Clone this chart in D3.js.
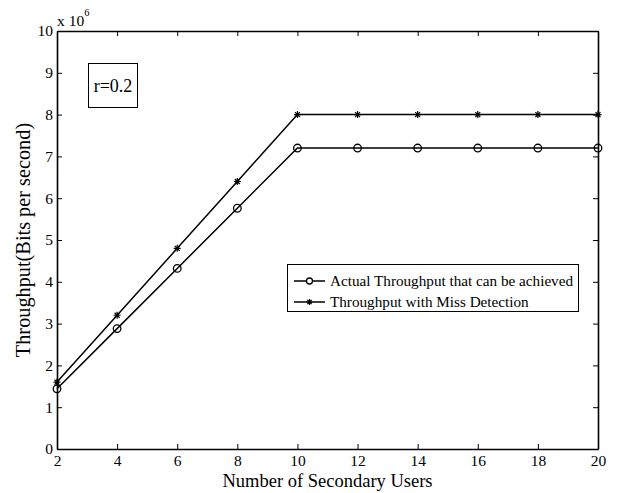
<!DOCTYPE html>
<html>
<head>
<meta charset="utf-8">
<script src="https://cdn.jsdelivr.net/npm/d3@7"></script>
<style>
  body { margin: 0; background: #fff; }
  text { font-family: "Liberation Serif", "Times New Roman", serif; fill: #000; }
</style>
</head>
<body>
<svg width="620" height="493"></svg>
<script>
var users = [2, 4, 6, 8, 10, 12, 14, 16, 18, 20];
var actualThroughput = [1.44, 2.88, 4.32, 5.76, 7.2, 7.2, 7.2, 7.2, 7.2, 7.2];
var missDetection = [1.6, 3.2, 4.8, 6.4, 8, 8, 8, 8, 8, 8];
var xTicks = [2, 4, 6, 8, 10, 12, 14, 16, 18, 20];
var yTicks = [0, 1, 2, 3, 4, 5, 6, 7, 8, 9, 10];
var seriesNames = ["Actual Throughput that can be achieved", "Throughput with Miss Detection"];

var svg = d3.select("svg"),
    margin = {top: 31, right: 22, bottom: 44, left: 57},
    width = svg.attr("width") - margin.left - margin.right,
    height = svg.attr("height") - margin.top - margin.bottom,
    g = svg.append("g").attr("transform", "translate(" + margin.left + "," + margin.top + ")");

var scaleX = d3.scaleLinear().domain([2, 20]).range([0, width]),
    scaleY = d3.scaleLinear().domain([0, 10]).range([height, 0]);

// axes with inward ticks, like matlab
g.append("g")
    .attr("transform", "translate(0," + height + ")")
    .call(d3.axisBottom(scaleX).tickValues(xTicks).tickSizeInner(-5).tickSizeOuter(0).tickPadding(6));
g.append("g")
    .call(d3.axisTop(scaleX).tickValues(xTicks).tickSizeInner(-5).tickSizeOuter(0).tickFormat(""));
g.append("g")
    .call(d3.axisLeft(scaleY).tickValues(yTicks).tickSizeInner(-5).tickSizeOuter(0).tickPadding(4));
g.append("g")
    .attr("transform", "translate(" + width + ",0)")
    .call(d3.axisRight(scaleY).tickValues(yTicks).tickSizeInner(-5).tickSizeOuter(0).tickFormat(""));

g.selectAll(".domain").attr("stroke", "#000").attr("stroke-width", 1.6);
g.selectAll(".tick line").attr("stroke", "#000");
g.selectAll(".tick text").style("font-size", "15.5px").style("font-family", "Liberation Serif, serif");

// exponent
var expo = svg.append("text").attr("x", margin.left).attr("y", 26).style("font-size", "15.5px");
expo.append("tspan").text("x 10");
expo.append("tspan").attr("dy", -10).style("font-size", "10.5px").text("6");

// axis labels
svg.append("text")
    .attr("x", margin.left + width / 2).attr("y", 487)
    .attr("text-anchor", "middle").style("font-size", "18.5px")
    .text("Number of Secondary Users");
svg.append("text")
    .attr("transform", "translate(30," + (margin.top + height / 2) + ") rotate(-90)")
    .attr("text-anchor", "middle").style("font-size", "20.3px")
    .text("Throughput(Bits per second)");

var line = d3.line()
    .x(function (d) { return scaleX(d[0]); })
    .y(function (d) { return scaleY(d[1]); });

var actualData = users.map(function (u, i) { return [u, actualThroughput[i]]; });
var missData = users.map(function (u, i) { return [u, missDetection[i]]; });

function starMarker(sel, r) {
    var p = "";
    for (var k = 0; k < 4; k++) {
        var a = k * Math.PI / 4;
        p += "M" + (-r * Math.cos(a)) + "," + (-r * Math.sin(a)) + "L" + (r * Math.cos(a)) + "," + (r * Math.sin(a));
    }
    sel.attr("d", p).attr("stroke", "#000").attr("stroke-width", 1.2).attr("fill", "none");
}

[actualData, missData].forEach(function (data) {
    g.append("path").datum(data).attr("d", line)
        .attr("fill", "none").attr("stroke", "#000").attr("stroke-width", 1.5);
});

g.selectAll(".circ").data(actualData).enter().append("circle")
    .attr("cx", function (d) { return scaleX(d[0]); })
    .attr("cy", function (d) { return scaleY(d[1]); })
    .attr("r", 3.8).attr("fill", "none").attr("stroke", "#000").attr("stroke-width", 1.3);

g.selectAll(".star").data(missData).enter().append("path")
    .attr("transform", function (d) { return "translate(" + scaleX(d[0]) + "," + scaleY(d[1]) + ")"; })
    .call(starMarker, 3.5);

// r=0.2 box
svg.append("rect").attr("x", 88.5).attr("y", 63.5).attr("width", 49).attr("height", 44)
    .attr("fill", "#fff").attr("stroke", "#000");
svg.append("text").attr("x", 113).attr("y", 92).attr("text-anchor", "middle")
    .style("font-size", "18px").text("r=0.2");

// legend
var legend = svg.append("g");
legend.append("rect").attr("x", 287.5).attr("y", 264.5).attr("width", 291).attr("height", 47)
    .attr("fill", "#fff").attr("stroke", "#000");
seriesNames.forEach(function (name, i) {
    var y = 281 + i * 21;
    legend.append("line").attr("x1", 294).attr("x2", 325).attr("y1", y).attr("y2", y)
        .attr("stroke", "#000").attr("stroke-width", 1.5);
    if (i === 0) {
        legend.append("circle").attr("cx", 309.5).attr("cy", y).attr("r", 3)
            .attr("fill", "#fff").attr("stroke", "#000").attr("stroke-width", 1.3);
    } else {
        legend.append("path").attr("transform", "translate(309.5," + y + ")").call(starMarker, 3);
    }
    legend.append("text").attr("x", 330).attr("y", y + 5).style("font-size", "15.2px").text(name);
});
</script>
</body>
</html>
